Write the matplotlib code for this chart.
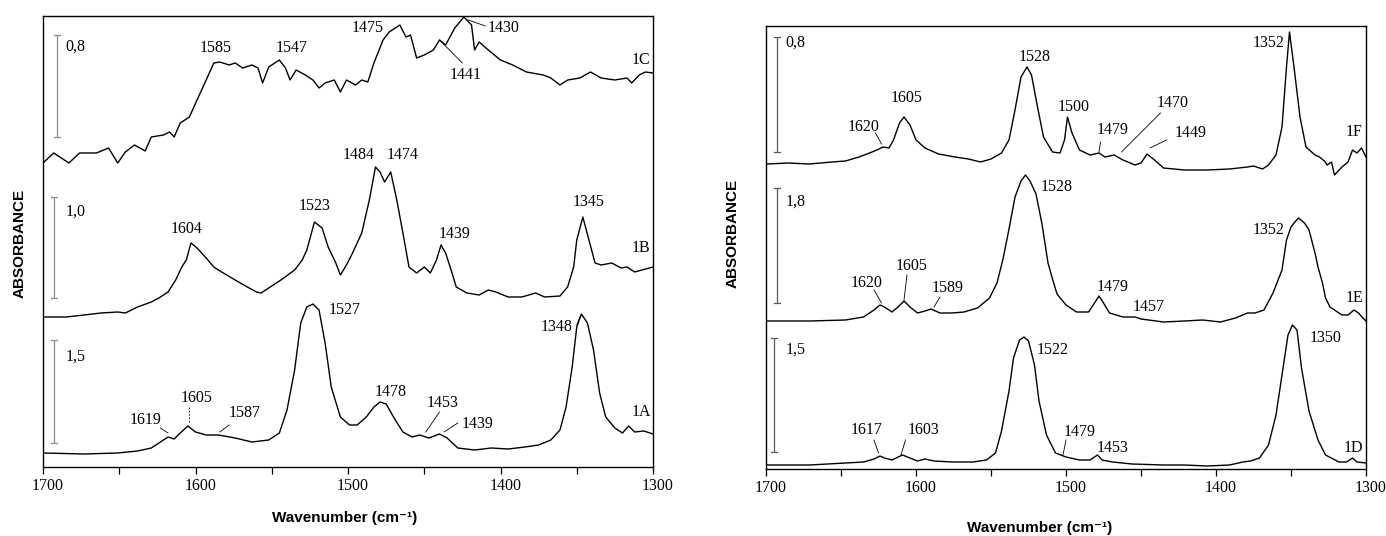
import matplotlib
matplotlib.use("Agg")
import matplotlib.pyplot as plt
from matplotlib.transforms import ScaledTranslation

# ---------------- data: stacked absorbance (arbitrary units) ----------------
# Left panel
wn_1C = [1700, 1693, 1683, 1676, 1665, 1657, 1651, 1646, 1640, 1633, 1629, 1621, 1617, 1614, 1610,
         1604, 1599, 1593, 1588, 1584, 1578, 1574, 1569, 1563, 1559, 1556, 1552, 1545, 1541, 1538,
         1534, 1528, 1523, 1519, 1515, 1509, 1505, 1501, 1495, 1491, 1487, 1483, 1477, 1473, 1469,
         1466, 1462, 1459, 1455, 1450, 1444, 1440, 1436, 1430, 1424, 1419, 1417, 1414, 1408, 1400,
         1392, 1383, 1372, 1367, 1361, 1356, 1348, 1341, 1334, 1325, 1317, 1314, 1309, 1305, 1300]
abs_1C = [304, 314, 304, 314, 314, 319, 304, 315, 322, 316, 330, 332, 335, 330, 344,
          350, 367, 387, 404, 405, 402, 404, 399, 402, 399, 384, 400, 407, 399, 387,
          397, 392, 387, 379, 384, 387, 375, 387, 382, 387, 385, 404, 427, 435, 439,
          442, 430, 432, 409, 412, 417, 427, 422, 439, 450, 442, 417, 425, 417, 407,
          402, 395, 392, 389, 382, 387, 389, 395, 389, 387, 389, 384, 392, 395, 394]

wn_1B = [1700, 1685, 1673, 1662, 1651, 1646, 1638, 1629, 1624, 1618, 1613, 1609, 1606, 1603, 1599,
         1593, 1588, 1585, 1574, 1566, 1560, 1557, 1552, 1544, 1535, 1530, 1527, 1522, 1517, 1513,
         1508, 1505, 1501, 1497, 1491, 1486, 1482, 1479, 1476, 1472, 1468, 1464, 1460, 1455, 1450,
         1446, 1442, 1439, 1436, 1433, 1429, 1422, 1414, 1408, 1403, 1395, 1386, 1377, 1371, 1361,
         1356, 1352, 1350, 1346, 1342, 1338, 1334, 1327, 1321, 1317, 1312, 1300]
abs_1B = [150, 150, 152, 154, 155, 154, 160, 165, 169, 175, 187, 200, 207, 224, 219,
          209, 200, 197, 187, 180, 175, 174, 179, 187, 197, 207, 217, 245, 239, 220,
          204, 192, 202, 214, 234, 267, 300, 295, 285, 295, 267, 234, 200, 194, 200,
          194, 207, 222, 214, 200, 180, 174, 172, 177, 175, 170, 170, 174, 170, 171,
          180, 200, 227, 250, 227, 204, 202, 204, 199, 200, 195, 200]

wn_1A = [1700, 1673, 1651, 1638, 1629, 1624, 1618, 1614, 1610, 1605, 1600, 1593, 1585, 1574, 1563,
         1552, 1545, 1540, 1535, 1531, 1527, 1523, 1519, 1515, 1511, 1505, 1499, 1494, 1488, 1483,
         1479, 1475, 1469, 1464, 1458, 1453, 1447, 1440, 1435, 1428, 1417, 1406, 1395, 1384, 1375,
         1367, 1361, 1357, 1353, 1350, 1347, 1343, 1339, 1335, 1331, 1325, 1320, 1316, 1312, 1306,
         1300]
abs_1A = [14, 13, 14, 16, 19, 24, 30, 28, 34, 41, 35, 32, 32, 29, 25,
          27, 34, 57, 97, 144, 160, 163, 157, 124, 80, 50, 42, 42, 50, 60,
          65, 63, 47, 35, 30, 32, 29, 33, 29, 19, 17, 19, 18, 20, 22,
          27, 37, 60, 100, 140, 153, 144, 117, 74, 50, 39, 34, 41, 35, 36,
          33]

# Right panel
wn_1F = [1700, 1685, 1671, 1656, 1647, 1638, 1631, 1626, 1622, 1618, 1615, 1611, 1608, 1604, 1600,
         1594, 1585, 1574, 1565, 1557, 1550, 1543, 1538, 1534, 1530, 1526, 1523, 1519, 1515, 1509,
         1504, 1501, 1499, 1496, 1491, 1484, 1478, 1474, 1468, 1462, 1454, 1450, 1446, 1441, 1435,
         1421, 1406, 1391, 1379, 1375, 1369, 1365, 1360, 1356, 1353, 1351, 1348, 1344, 1340, 1334,
         1331, 1327, 1326, 1323, 1321, 1316, 1312, 1309, 1306, 1303, 1300]
abs_1F = [305, 306, 305, 307, 308, 312, 316, 319, 322, 321, 329, 346, 352, 344, 329,
          321, 315, 312, 310, 307, 310, 316, 329, 359, 392, 402, 394, 362, 332, 317,
          316, 329, 352, 336, 319, 314, 316, 312, 314, 309, 304, 306, 315, 309, 301,
          299, 299, 300, 302, 303, 300, 304, 314, 342, 402, 437, 402, 352, 322, 314,
          312, 307, 304, 307, 294, 302, 307, 319, 316, 321, 312]

wn_1E = [1700, 1671, 1647, 1635, 1628, 1624, 1621, 1616, 1612, 1608, 1604, 1599, 1594, 1590, 1584,
         1576, 1568, 1559, 1551, 1546, 1542, 1538, 1534, 1530, 1527, 1524, 1520, 1516, 1512, 1509,
         1506, 1500, 1493, 1485, 1481, 1478, 1475, 1471, 1462, 1454, 1450, 1435, 1421, 1409, 1397,
         1387, 1379, 1374, 1368, 1362, 1356, 1353, 1350, 1348, 1345, 1341, 1338, 1334, 1332, 1329,
         1327, 1324, 1321, 1316, 1312, 1308, 1305, 1302, 1300]
abs_1E = [148, 148, 149, 152, 159, 164, 162, 157, 162, 168, 162, 156, 158, 160, 156,
          156, 157, 161, 171, 186, 210, 240, 272, 288, 294, 288, 275, 245, 206, 190,
          175, 164, 157, 157, 166, 173, 166, 156, 152, 152, 150, 147, 148, 149, 147,
          151, 156, 156, 159, 176, 199, 229, 242, 246, 251, 246, 239, 216, 202, 186,
          171, 162, 159, 154, 154, 159, 156, 151, 148]

wn_1D = [1700, 1671, 1647, 1635, 1628, 1624, 1621, 1616, 1609, 1604, 1599, 1594, 1588, 1576, 1562,
         1553, 1547, 1543, 1538, 1535, 1531, 1528, 1525, 1521, 1518, 1513, 1507, 1500, 1491, 1484,
         1479, 1476, 1469, 1456, 1435, 1421, 1406, 1391, 1382, 1377, 1371, 1365, 1360, 1356, 1352,
         1349, 1346, 1343, 1338, 1332, 1327, 1318, 1313, 1309, 1306, 1300]
abs_1D = [4, 4, 6, 7, 10, 13, 11, 9, 14, 11, 8, 10, 8, 7, 7,
          9, 16, 38, 78, 111, 129, 132, 128, 104, 68, 34, 16, 12, 9, 9,
          14, 9, 7, 5, 4, 4, 3, 4, 7, 8, 11, 24, 54, 94, 134,
          144, 139, 101, 58, 29, 14, 7, 7, 11, 7, 6]

scale_left = ["0,8", "1,0", "1,5"]
scale_right = ["0,8", "1,8", "1,5"]
names_left = ["1C", "1B", "1A"]
names_right = ["1F", "1E", "1D"]
tick_values = [1700, 1600, 1500, 1400, 1300]

# ---------------- layout ----------------
W, H = 1386, 536
fig = plt.figure(figsize=(W / 100, H / 100), dpi=100)
fig.patch.set_facecolor("white")

SERIF = ["Liberation Serif", "DejaVu Serif"]
SANS = ["Liberation Sans", "DejaVu Sans"]
FS = 11.5

def px_axes(l, r, t, b):
    return fig.add_axes([l / W, 1 - b / H, (r - l) / W, (b - t) / H])

axL = px_axes(43, 653, 16, 467)
axR = px_axes(766, 1366, 26, 469)

def style(ax, ytop):
    ax.set_xlim(1700, 1300)
    ax.set_ylim(0, ytop)
    ax.set_yticks([])
    ax.set_xticks(tick_values)
    ax.set_xticks([1650, 1550, 1450, 1350], minor=True)
    ax.tick_params(axis="x", which="both", direction="out", length=5, width=0.9, pad=3)
    for lab in ax.get_xticklabels():
        lab.set_fontfamily(SERIF)
        lab.set_fontsize(FS)
        lab.set_transform(lab.get_transform() + ScaledTranslation(5 / 100, 0, fig.dpi_scale_trans))
    for s in ax.spines.values():
        s.set_linewidth(1.0)
        s.set_color("black")

style(axL, 451)
style(axR, 443)

lw = 1.0
for x, y in [(wn_1C, abs_1C), (wn_1B, abs_1B), (wn_1A, abs_1A)]:
    axL.plot(x, y, color="black", lw=lw)
for x, y in [(wn_1F, abs_1F), (wn_1E, abs_1E), (wn_1D, abs_1D)]:
    axR.plot(x, y, color="black", lw=lw)

def bar(ax, x, y0, y1, color):
    ax.plot([x, x], [y0, y1], color=color, lw=0.9, solid_capstyle="butt")
    for yy in (y0, y1):
        ax.plot([x - 2, x + 2], [yy, yy], color=color, lw=0.9)

def txt(ax, s, x, y, ha="center"):
    ax.text(x, y, s, ha=ha, va="center", fontsize=FS, family=SERIF, color="black")

def lead(ax, x0, y0, x1, y1, ls="-"):
    ax.plot([x0, x1], [y0, y1], color="black", lw=0.6, ls=ls)

# scale bars (left)
bar(axL, 1691, 330, 432, "0.55")
bar(axL, 1693, 169, 270, "0.55")
bar(axL, 1693, 24, 127, "0.55")
for s, y in zip(scale_left, [420, 255, 110]):
    txt(axL, s, 1685, y, ha="left")
# spectrum names (left)
for s, y in zip(names_left, [407, 219, 55]):
    txt(axL, s, 1301.5, y, ha="right")

# peak labels (left)
for s, x, y in [("1585", 1587, 419), ("1547", 1537, 419), ("1475", 1487, 439), ("1430", 1398, 439),
                ("1441", 1423, 392),
                ("1604", 1606, 238), ("1523", 1522, 261), ("1484", 1493, 312), ("1474", 1464, 312),
                ("1439", 1430, 233), ("1345", 1342, 265),
                ("1527", 1502, 157), ("1348", 1363, 140), ("1478", 1472, 75), ("1453", 1438, 64),
                ("1439", 1415, 43), ("1619", 1633, 47), ("1605", 1599, 69), ("1587", 1568, 54)]:
    txt(axL, s, x, y)
lead(axL, 1421, 447, 1410, 441)
lead(axL, 1440, 427, 1425, 404)
lead(axL, 1440, 55, 1449, 35)
lead(axL, 1428, 44, 1437, 35)
lead(axL, 1623, 39, 1618, 34)
lead(axL, 1604, 60, 1604, 44, ls=(0, (2, 2)))
lead(axL, 1578, 42, 1584, 35)
lead(axL, 1350, 142, 1348, 150)

# scale bars (right)
bar(axR, 1693, 317, 432, "0.35")
bar(axR, 1693, 166, 281, "0.35")
bar(axR, 1695, 17, 131, "0.35")
for s, y in zip(scale_right, [426, 267, 119]):
    txt(axR, s, 1687, y, ha="left")
for s, y in zip(names_right, [337, 171, 21]):
    txt(axR, s, 1302, y, ha="right")

for s, x, y in [("1352", 1365, 426), ("1528", 1521, 412), ("1605", 1606, 371), ("1620", 1635, 342),
                ("1500", 1495, 362), ("1479", 1469, 339), ("1470", 1429, 366), ("1449", 1417, 336),
                ("1528", 1506, 282), ("1352", 1365, 239), ("1605", 1603, 203), ("1620", 1633, 186),
                ("1589", 1579, 181), ("1479", 1469, 182), ("1457", 1445, 162),
                ("1522", 1509, 119), ("1350", 1327, 131), ("1617", 1633, 39), ("1603", 1595, 39),
                ("1479", 1491, 37), ("1453", 1469, 21)]:
    txt(axR, s, x, y)
lead(axR, 1627, 336, 1623, 325)
lead(axR, 1477, 327, 1478, 317)
lead(axR, 1437, 356, 1463, 317)
lead(axR, 1433, 329, 1444, 321)
lead(axR, 1606, 194, 1608, 169)
lead(axR, 1628, 179, 1623, 166)
lead(axR, 1584, 172, 1588, 162)
lead(axR, 1628, 29, 1625, 16)
lead(axR, 1607, 29, 1610, 14)
lead(axR, 1500, 29, 1502, 14)

# axis titles
fig.text(20 / W, 1 - 243 / H, "ABSORBANCE", rotation=90, ha="center", va="center",
         fontsize=11, fontweight="bold", family=SANS)
fig.text(733 / W, 1 - 233 / H, "ABSORBANCE", rotation=90, ha="center", va="center",
         fontsize=11, fontweight="bold", family=SANS)
fig.text(345 / W, 1 - 518 / H, "Wavenumber (cm⁻¹)", ha="center", va="center",
         fontsize=11, fontweight="bold", family=SANS)
fig.text(1040 / W, 1 - 528 / H, "Wavenumber (cm⁻¹)", ha="center", va="center",
         fontsize=11, fontweight="bold", family=SANS)

fig.savefig("out.png", dpi=100, facecolor="white")
